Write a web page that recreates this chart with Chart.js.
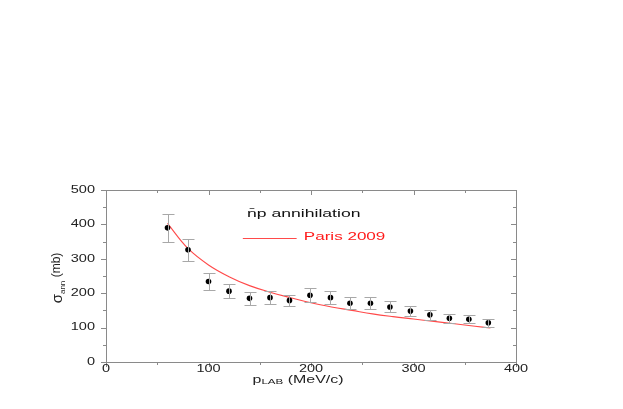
<!DOCTYPE html>
<html>
<head>
<meta charset="utf-8">
<script src="https://cdn.jsdelivr.net/npm/chart.js@4"></script>
<style>
  html, body { margin: 0; padding: 0; background: #fff; }
  #wrap { width: 623px; height: 409px; }
</style>
</head>
<body>
<div id="wrap"><canvas id="chart" width="623" height="409"></canvas></div>
<script>
// --- data ---
const pLab = [60, 80, 100, 120, 140, 160, 179, 199, 219, 238, 258, 277, 297, 316, 335, 354, 373];
const sigma = [390, 326, 234, 206, 185, 187, 179, 194, 187, 171, 171, 160, 148, 137, 127, 124, 114];
const sigmaErr = [40, 33, 24, 21, 19, 18, 17, 21, 19, 17, 17, 16, 15, 14, 13, 12, 11];

const parisX = [60, 80, 100, 120, 140, 160, 180, 200, 220, 240, 260, 280, 300, 320, 340, 360, 375];
const parisY = [403, 330, 282, 248, 222, 203, 187, 172, 160, 150, 140, 132, 125, 118, 111, 104, 99];

const xTicks = [0, 100, 200, 300, 400];
const yTicks = [0, 100, 200, 300, 400, 500];

const FONT = '"Liberation Sans", Arial, sans-serif';
const AXIS = '#8a8a8a';
const SX = 1.45; // horizontal stretch of the original lettering

// text drawn wider than tall, like the reference
function wideText(ctx, text, x, y, align, sx) {
  ctx.save();
  ctx.translate(x, y);
  ctx.scale(sx, 1);
  ctx.textAlign = align;
  ctx.fillText(text, 0, 0);
  ctx.restore();
  return ctx.measureText(text).width * sx;
}

const decorPlugin = {
  id: 'decor',
  afterDatasetsDraw(chart) {
    const ctx = chart.ctx;
    const xs = chart.scales.x, ys = chart.scales.y;

    // error bars
    ctx.save();
    ctx.strokeStyle = '#a8a8a8';
    ctx.lineWidth = 1;
    pLab.forEach((p, i) => {
      const px = Math.round(xs.getPixelForValue(p)) + 0.5;
      const top = Math.round(ys.getPixelForValue(sigma[i] + sigmaErr[i])) + 0.5;
      const bot = Math.round(ys.getPixelForValue(sigma[i] - sigmaErr[i])) + 0.5;
      ctx.beginPath();
      ctx.moveTo(px, top); ctx.lineTo(px, bot);
      ctx.moveTo(px - 6, top); ctx.lineTo(px + 6, top);
      ctx.moveTo(px - 6, bot); ctx.lineTo(px + 6, bot);
      ctx.stroke();
    });
    ctx.restore();
  },
  afterDraw(chart) {
    const ctx = chart.ctx;
    const xs = chart.scales.x, ys = chart.scales.y;
    const a = chart.chartArea;
    ctx.save();
    ctx.strokeStyle = AXIS;
    ctx.lineWidth = 1;
    // frame
    ctx.strokeRect(Math.round(a.left) + 0.5, Math.round(a.top) + 0.5,
      Math.round(a.right - a.left), Math.round(a.bottom - a.top));
    // ticks every 50: outward on left/bottom, inward on top/right
    ctx.beginPath();
    for (let v = 0; v <= 400; v += 50) {
      const px = Math.round(xs.getPixelForValue(v)) + 0.5;
      const len = v % 100 === 0 ? 5 : 3;
      ctx.moveTo(px, a.bottom); ctx.lineTo(px, a.bottom + len);
      ctx.moveTo(px, a.top); ctx.lineTo(px, a.top + len);
    }
    for (let v = 0; v <= 500; v += 50) {
      const py = Math.round(ys.getPixelForValue(v)) + 0.5;
      const len = v % 100 === 0 ? 5 : 3;
      ctx.moveTo(a.left, py); ctx.lineTo(a.left - len, py);
      ctx.moveTo(a.right, py); ctx.lineTo(a.right - len, py);
    }
    ctx.stroke();

    // tick labels
    ctx.fillStyle = '#222';
    ctx.font = '10px ' + FONT;
    ctx.textBaseline = 'middle';
    yTicks.forEach(v => wideText(ctx, String(v), a.left - 11, ys.getPixelForValue(v), 'right', SX));
    ctx.textBaseline = 'alphabetic';
    xTicks.forEach(v => wideText(ctx, String(v), xs.getPixelForValue(v), a.bottom + 10, 'center', SX));

    // x title: p_LAB (MeV/c)
    const big = '11px ' + FONT, small = '7px ' + FONT;
    const by = a.bottom + 21;
    let sx = xs.getPixelForValue(143);
    ctx.font = big; sx += wideText(ctx, 'p', sx, by, 'left', SX);
    ctx.font = small; sx += wideText(ctx, 'LAB', sx, by + 1, 'left', SX + 0.2);
    ctx.font = big; wideText(ctx, ' (MeV/c)', sx, by, 'left', SX);

    // y title: sigma_ann (mb), rotated
    ctx.save();
    ctx.translate(a.left - 50, (a.top + a.bottom) / 2 + 2);
    ctx.rotate(-Math.PI / 2);
    ctx.textBaseline = 'alphabetic';
    ctx.font = '15px ' + FONT; const s1 = ctx.measureText('σ').width;
    ctx.font = '8px ' + FONT; const s2 = ctx.measureText('ann').width;
    ctx.font = '12px ' + FONT; const s3 = ctx.measureText(' (mb)').width;
    let sy = -(s1 + s2 + s3) / 2;
    ctx.font = '15px ' + FONT; ctx.fillText('σ', sy, 6); sy += s1;
    ctx.font = '8px ' + FONT; ctx.fillText('ann', sy, 9); sy += s2;
    ctx.font = '12px ' + FONT; ctx.fillText(' (mb)', sy, 4);
    ctx.restore();

    // annotation
    ctx.font = '11px ' + FONT;
    ctx.fillStyle = '#111';
    wideText(ctx, 'n\u0304p annihilation', xs.getPixelForValue(137.5), ys.getPixelForValue(421), 'left', 1.6);
    ctx.strokeStyle = '#ff4a4a';
    ctx.beginPath();
    const ly = Math.round(ys.getPixelForValue(360)) + 0.5;
    ctx.moveTo(xs.getPixelForValue(133.5), ly);
    ctx.lineTo(xs.getPixelForValue(186), ly);
    ctx.stroke();
    ctx.fillStyle = '#ff1a1a';
    wideText(ctx, 'Paris 2009', xs.getPixelForValue(193), ys.getPixelForValue(355), 'left', 1.55);
    ctx.restore();
  }
};

new Chart(document.getElementById('chart'), {
  type: 'scatter',
  data: {
    datasets: [
      {
        label: 'Paris 2009',
        type: 'line',
        data: parisX.map((x, i) => ({ x: x, y: parisY[i] })),
        borderColor: '#ff4a4a',
        borderWidth: 1.1,
        pointRadius: 0,
        tension: 0.4,
        fill: false,
        order: 2
      },
      {
        label: 'np annihilation',
        data: pLab.map((x, i) => ({ x: x, y: sigma[i] })),
        backgroundColor: '#000',
        borderColor: '#000',
        borderWidth: 0,
        pointRadius: 2.8,
        pointStyle: 'circle',
        order: 1
      }
    ]
  },
  options: {
    responsive: false,
    animation: false,
    layout: { padding: { left: 0, top: 190, right: 107, bottom: 0 } },
    plugins: {
      legend: { display: false },
      tooltip: { enabled: false }
    },
    scales: {
      x: {
        type: 'linear',
        min: 0, max: 400,
        afterBuildTicks: (s) => { s.ticks = xTicks.map(v => ({ value: v })); },
        afterFit: (s) => { s.height = 47; },
        grid: { display: false },
        border: { display: false },
        ticks: { display: false }
      },
      y: {
        type: 'linear',
        min: 0, max: 500,
        afterBuildTicks: (s) => { s.ticks = yTicks.map(v => ({ value: v })); },
        afterFit: (s) => { s.width = 106; },
        grid: { display: false },
        border: { display: false },
        ticks: { display: false }
      }
    }
  },
  plugins: [decorPlugin]
});
</script>
</body>
</html>
